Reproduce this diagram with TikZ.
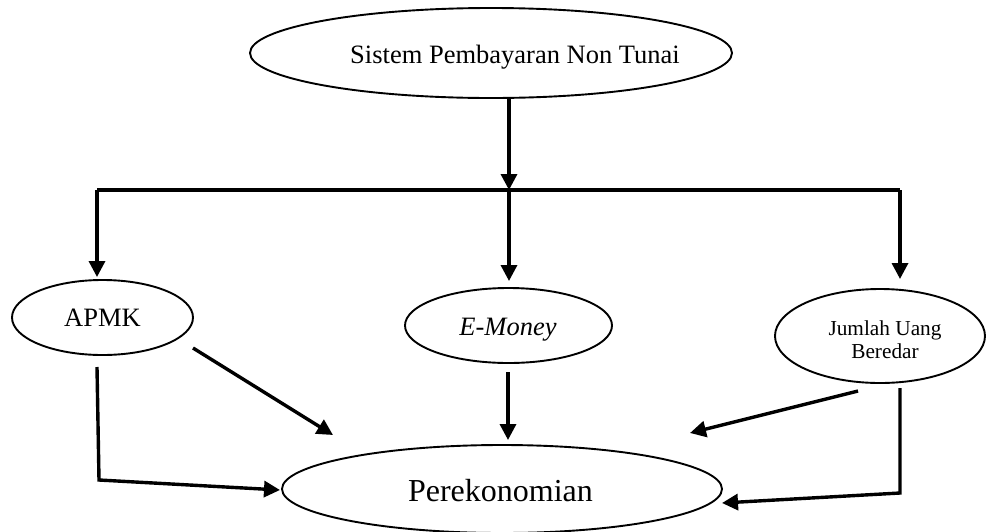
\documentclass[tikz,border=0pt]{standalone}
\usepackage{fontspec}
\setmainfont{Liberation Serif}
\usetikzlibrary{shapes.geometric,arrows.meta}
\tikzset{
  oval/.style={draw, ellipse, line width=1.9pt, inner sep=0pt},
  conn/.style={line width=3.4pt, -{Triangle[length=16pt,width=16pt]}, line join=miter},
  plain/.style={line width=3.4pt, line join=miter},
  lbl/.style={anchor=base, inner sep=0pt, font=\fontsize{26.5}{30}\selectfont}
}
\begin{document}
\begin{tikzpicture}[x=1pt,y=-1pt]
\useasboundingbox (0,0) rectangle (986,531);
% ellipses
\node[oval, minimum width=482pt, minimum height=90pt] (sys) at (491,53) {};
\node[oval, minimum width=181pt, minimum height=75pt] (apmk) at (102.5,317.5) {};
\node[oval, minimum width=207pt, minimum height=75pt] (emoney) at (508.5,325.5) {};
\node[oval, minimum width=210pt, minimum height=94pt] (jub) at (880,336) {};
\node[oval, minimum width=440pt, minimum height=88pt] (eko) at (502,489) {};
% texts
\node[lbl] (tsys) at (515,63) {Sistem Pembayaran Non Tunai};
\node[lbl] (tapmk) at (102.5,326) {APMK};
\node[lbl] (temoney) at (508,335) {\itshape E-Money};
\node[lbl, align=center, font=\fontsize{21.3}{23}\selectfont] (tjub) at (885,358) {Jumlah Uang\\Beredar};
\node[lbl, font=\fontsize{32}{36}\selectfont] (teko) at (500.5,501) {Perekonomian};
% connector points
\coordinate (s1) at (509,98);
\coordinate (hub) at (509,190);
\coordinate (hubL) at (97,190);
\coordinate (hubR) at (900,190);
\coordinate (aTop) at (97,277);
\coordinate (eTop) at (509,281);
\coordinate (jTop) at (900,279);
\coordinate (a1) at (193,348);
\coordinate (a1e) at (333,435);
\coordinate (a2) at (97,367);
\coordinate (a2c) at (99,480);
\coordinate (a2e) at (280,490);
\coordinate (e1) at (508,372);
\coordinate (e1e) at (508,440);
\coordinate (j1) at (858,391);
\coordinate (j1e) at (690,433);
\coordinate (j2) at (900,388);
\coordinate (j2c) at (900,493);
\coordinate (j2e) at (722,503);
% connectors
\draw[conn] (s1) -- (hub);
\draw[plain] (hubL) -- (hubR);
\draw[conn] (hubL) -- (aTop);
\draw[conn] (hubR) -- (jTop);
\draw[conn] (hub) -- (eTop);
\draw[conn] (a1) -- (a1e);
\draw[conn] (a2) -- (a2c) -- (a2e);
\draw[conn] (e1) -- (e1e);
\draw[conn] (j1) -- (j1e);
\draw[conn] (j2) -- (j2c) -- (j2e);
\end{tikzpicture}
\end{document}
